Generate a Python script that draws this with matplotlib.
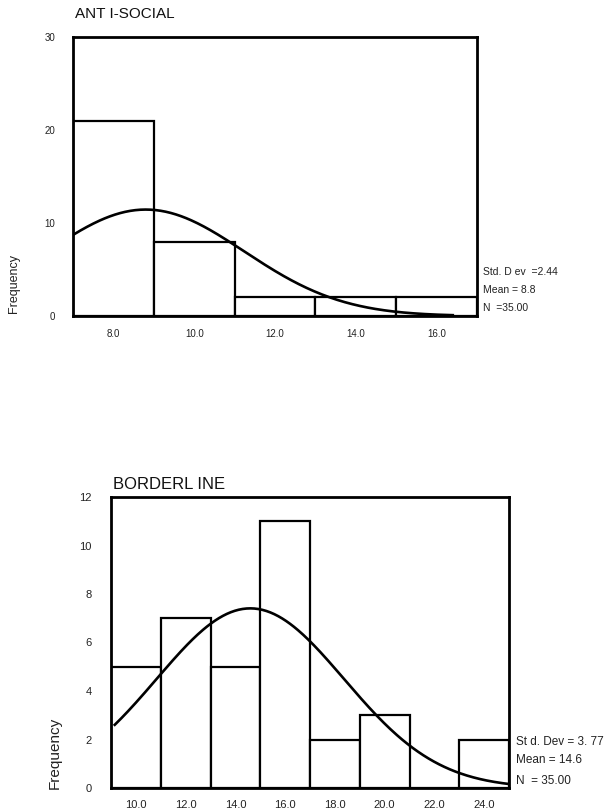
import numpy as np
import matplotlib
matplotlib.use("Agg")
import matplotlib.pyplot as plt

plt.rcParams['font.family'] = ['Liberation Sans', 'DejaVu Sans']

# ---- data ----
anti_centers = [8.0, 10.0, 12.0, 14.0, 16.0]
anti_counts = [21, 8, 2, 2, 2]
anti_xticks = [8.0, 10.0, 12.0, 14.0, 16.0]
anti_yticks = [0, 10, 20, 30]
anti_mean, anti_sd, anti_n = 8.8, 2.44, 35

border_centers = [10.0, 12.0, 14.0, 16.0, 18.0, 20.0, 22.0, 24.0]
border_counts = [5, 7, 5, 11, 2, 3, 0, 2]
border_xticks = [10.0, 12.0, 14.0, 16.0, 18.0, 20.0, 22.0, 24.0]
border_yticks = [0, 2, 4, 6, 8, 10, 12]
border_mean, border_sd, border_n = 14.6, 3.77, 35
bin_width = 2.0

W, H = 612, 809
fig = plt.figure(figsize=(W / 100, H / 100), dpi=100)


def px_axes(l, t, r, b):
    return fig.add_axes([l / W, 1 - b / H, (r - l) / W, (b - t) / H])


def draw(ax, centers, counts, xlim, ylim, xticks, yticks, mean, sd, n,
         fs, ypad, xpad, curve_x):
    ax.bar(centers, counts, width=bin_width, facecolor='white',
           edgecolor='black', linewidth=1.6, zorder=2)
    xs = np.linspace(curve_x[0], curve_x[1], 300)
    ys = n * bin_width / (sd * np.sqrt(2 * np.pi)) * np.exp(-0.5 * ((xs - mean) / sd) ** 2)
    ax.plot(xs, ys, color='black', linewidth=1.9, zorder=3)
    ax.set_xlim(*xlim)
    ax.set_ylim(*ylim)
    ax.set_xticks(xticks)
    ax.set_xticklabels([f"{v:.1f}" for v in xticks])
    ax.set_yticks(yticks)
    ax.set_yticklabels([str(v) for v in yticks])
    ax.tick_params(axis='both', length=0, labelsize=fs, colors='#222222')
    ax.tick_params(axis='y', pad=ypad)
    ax.tick_params(axis='x', pad=xpad)
    for s in ax.spines.values():
        s.set_linewidth(2.0)
        s.set_zorder(4)


ax1 = px_axes(73, 37, 477, 316)
draw(ax1, anti_centers, anti_counts, (7, 17), (0, 30), anti_xticks, anti_yticks,
     anti_mean, anti_sd, anti_n, 7, 13, 9, (7.0, 16.4))
fig.text(75 / W, 1 - 14 / H, "ANT I-SOCIAL", fontsize=11, ha='left', va='center',
         color='#111111')
fig.text(14 / W, 1 - 313 / H, "Frequency", rotation=90, fontsize=9,
         ha='center', va='bottom', color='#222222')
for txt, y in [("Std. D ev  =2.44", 272), ("Mean = 8.8", 290), ("N  =35.00", 308)]:
    fig.text(483 / W, 1 - y / H, txt, fontsize=7.5, ha='left', va='center',
             color='#222222')

ax2 = px_axes(111, 497, 509, 788)
draw(ax2, border_centers, border_counts, (9, 25), (0, 12), border_xticks,
     border_yticks, border_mean, border_sd, border_n, 8, 14, 9, (9.15, 25.0))
fig.text(113 / W, 1 - 484 / H, "BORDERL INE", fontsize=12, ha='left',
         va='center', color='#111111')
fig.text(55 / W, 1 - 789 / H, "Frequency", rotation=90, fontsize=11,
         ha='center', va='bottom', color='#222222')
for txt, y in [("St d. Dev = 3. 77", 742), ("Mean = 14.6", 760), ("N  = 35.00", 781)]:
    fig.text(516 / W, 1 - y / H, txt, fontsize=8.5, ha='left', va='center',
             color='#222222')

fig.savefig("out.png", dpi=100, facecolor='white')
